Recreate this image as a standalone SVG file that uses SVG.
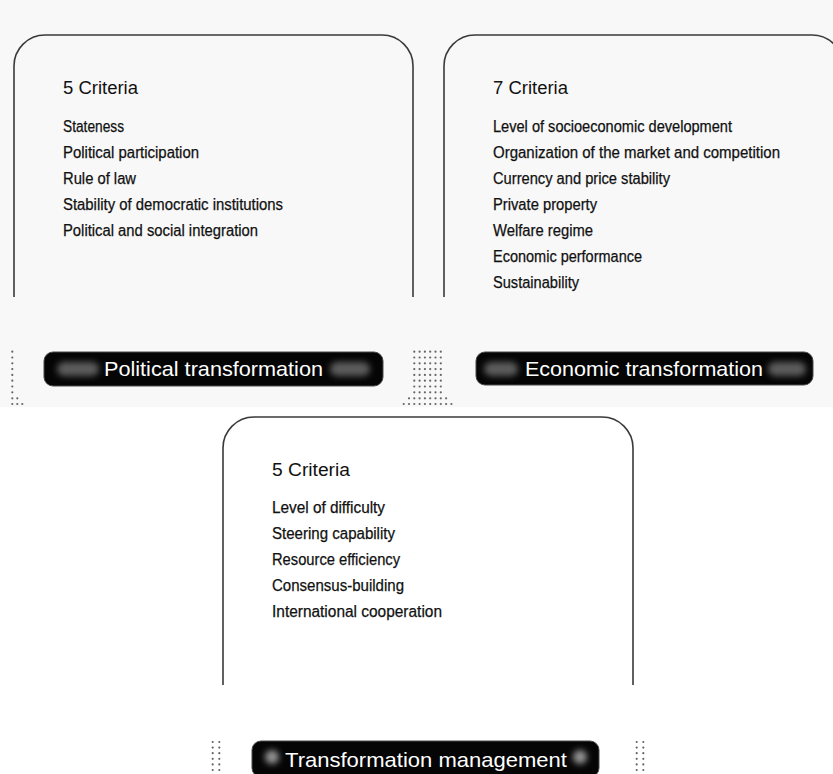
<svg xmlns="http://www.w3.org/2000/svg" xmlns:xlink="http://www.w3.org/1999/xlink" width="833" height="774" viewBox="0 0 833 774">
<style>
.frame{fill:none;stroke:#3a3a3a;stroke-width:1.6}
.hdr{font-family:"Liberation Sans",Arial,sans-serif;font-size:17.5px;fill:#111111}
.item{font-family:"Liberation Sans Narrow","Liberation Sans",Arial,sans-serif;font-size:16px;fill:#111111;stroke:#111111;stroke-width:0.25}
.pill{fill:#050505;stroke:#4a4a4a;stroke-width:1}
.glow{fill:#5c5c5c;filter:url(#blur)}
.spot{fill:#959595;filter:url(#blur)}
.lbl{font-family:"Liberation Sans",Arial,sans-serif;font-size:21px;fill:#ffffff}
.dot{fill:#666666}
</style>
<defs>
<filter id="blur" x="-50%" y="-50%" width="200%" height="200%"><feGaussianBlur stdDeviation="3"/></filter>
<g id="col8">
<circle class="dot" cx="0" cy="0" r="1.1"/><circle class="dot" cx="0" cy="5.8" r="1.1"/><circle class="dot" cx="0" cy="11.6" r="1.1"/><circle class="dot" cx="0" cy="17.4" r="1.1"/><circle class="dot" cx="0" cy="23.2" r="1.1"/><circle class="dot" cx="0" cy="29" r="1.1"/><circle class="dot" cx="0" cy="34.8" r="1.1"/><circle class="dot" cx="0" cy="40.6" r="1.1"/>
</g>
<g id="col6">
<circle class="dot" cx="0" cy="0" r="1.1"/><circle class="dot" cx="0" cy="5.6" r="1.1"/><circle class="dot" cx="0" cy="11.2" r="1.1"/><circle class="dot" cx="0" cy="16.8" r="1.1"/><circle class="dot" cx="0" cy="22.4" r="1.1"/><circle class="dot" cx="0" cy="28" r="1.1"/>
</g>
</defs>
<rect x="0" y="0" width="833" height="407" fill="#f8f8f8"/>
<rect x="0" y="407" width="833" height="367" fill="#ffffff"/>

<g id="connectors"></g>

<g id="decor">
<use xlink:href="#col8" x="12.3" y="351.7"/>
<circle class="dot" cx="12.3" cy="398.3" r="1.1"/><circle class="dot" cx="17.3" cy="398.3" r="1.1"/>
<circle class="dot" cx="12.3" cy="404" r="1.1"/><circle class="dot" cx="17.3" cy="404" r="1.1"/><circle class="dot" cx="22.3" cy="404" r="1.1"/>

<use xlink:href="#col8" x="414.3" y="351.7"/>
<use xlink:href="#col8" x="419.6" y="351.7"/>
<use xlink:href="#col8" x="424.9" y="351.7"/>
<use xlink:href="#col8" x="430.2" y="351.7"/>
<use xlink:href="#col8" x="435.5" y="351.7"/>
<use xlink:href="#col8" x="440.8" y="351.7"/>
<circle class="dot" cx="409" cy="398.3" r="1.1"/><circle class="dot" cx="414.3" cy="398.3" r="1.1"/><circle class="dot" cx="419.6" cy="398.3" r="1.1"/><circle class="dot" cx="424.9" cy="398.3" r="1.1"/><circle class="dot" cx="430.2" cy="398.3" r="1.1"/><circle class="dot" cx="435.5" cy="398.3" r="1.1"/><circle class="dot" cx="440.8" cy="398.3" r="1.1"/><circle class="dot" cx="446.1" cy="398.3" r="1.1"/>
<circle class="dot" cx="403.7" cy="404" r="1.1"/><circle class="dot" cx="409" cy="404" r="1.1"/><circle class="dot" cx="414.3" cy="404" r="1.1"/><circle class="dot" cx="419.6" cy="404" r="1.1"/><circle class="dot" cx="424.9" cy="404" r="1.1"/><circle class="dot" cx="430.2" cy="404" r="1.1"/><circle class="dot" cx="435.5" cy="404" r="1.1"/><circle class="dot" cx="440.8" cy="404" r="1.1"/><circle class="dot" cx="446.1" cy="404" r="1.1"/><circle class="dot" cx="451.4" cy="404" r="1.1"/>

<use xlink:href="#col6" x="212.7" y="742"/>
<use xlink:href="#col6" x="219.3" y="742"/>
<use xlink:href="#col6" x="636.7" y="742"/>
<use xlink:href="#col6" x="643.3" y="742"/>
</g>

<g id="political">
<path class="frame" d="M14,297 V66 A31,31 0 0 1 45,35 H382 A31,31 0 0 1 413,66 V297"/>
<text class="hdr" x="63" y="94" textLength="75" lengthAdjust="spacingAndGlyphs">5 Criteria</text>
<text class="item" x="63" y="132" textLength="61" lengthAdjust="spacingAndGlyphs">Stateness</text>
<text class="item" x="63" y="158" textLength="136" lengthAdjust="spacingAndGlyphs">Political participation</text>
<text class="item" x="63" y="184" textLength="73" lengthAdjust="spacingAndGlyphs">Rule of law</text>
<text class="item" x="63" y="210" textLength="220" lengthAdjust="spacingAndGlyphs">Stability of democratic institutions</text>
<text class="item" x="63" y="236" textLength="195" lengthAdjust="spacingAndGlyphs">Political and social integration</text>
<rect class="pill" x="44" y="352" width="339" height="34" rx="9"/>
<rect class="glow" x="57" y="362" width="42" height="14" rx="7"/>
<rect class="glow" x="330" y="362" width="40" height="14" rx="7"/>
<text class="lbl" x="104" y="376" textLength="219" lengthAdjust="spacingAndGlyphs">Political transformation</text>
</g>

<g id="economic">
<path class="frame" d="M444,297 V66 A31,31 0 0 1 475,35 H812 A31,31 0 0 1 843,66 V297"/>
<text class="hdr" x="493" y="94" textLength="75" lengthAdjust="spacingAndGlyphs">7 Criteria</text>
<text class="item" x="493" y="132" textLength="239" lengthAdjust="spacingAndGlyphs">Level of socioeconomic development</text>
<text class="item" x="493" y="158" textLength="287" lengthAdjust="spacingAndGlyphs">Organization of the market and competition</text>
<text class="item" x="493" y="184" textLength="177" lengthAdjust="spacingAndGlyphs">Currency and price stability</text>
<text class="item" x="493" y="210" textLength="104" lengthAdjust="spacingAndGlyphs">Private property</text>
<text class="item" x="493" y="236" textLength="100" lengthAdjust="spacingAndGlyphs">Welfare regime</text>
<text class="item" x="493" y="262" textLength="149" lengthAdjust="spacingAndGlyphs">Economic performance</text>
<text class="item" x="493" y="288" textLength="86" lengthAdjust="spacingAndGlyphs">Sustainability</text>
<rect class="pill" x="476" y="352" width="337" height="33" rx="9"/>
<rect class="glow" x="484" y="362" width="34" height="14" rx="7"/>
<rect class="glow" x="768" y="362" width="38" height="14" rx="7"/>
<text class="lbl" x="525" y="376" textLength="238" lengthAdjust="spacingAndGlyphs">Economic transformation</text>
</g>

<g id="management">
<path class="frame" d="M223,685 V448 A31,31 0 0 1 254,417 H602 A31,31 0 0 1 633,448 V685"/>
<text class="hdr" x="272" y="476" textLength="78" lengthAdjust="spacingAndGlyphs">5 Criteria</text>
<text class="item" x="272" y="513" textLength="113" lengthAdjust="spacingAndGlyphs">Level of difficulty</text>
<text class="item" x="272" y="539" textLength="123" lengthAdjust="spacingAndGlyphs">Steering capability</text>
<text class="item" x="272" y="565" textLength="128" lengthAdjust="spacingAndGlyphs">Resource efficiency</text>
<text class="item" x="272" y="591" textLength="132" lengthAdjust="spacingAndGlyphs">Consensus-building</text>
<text class="item" x="272" y="617" textLength="170" lengthAdjust="spacingAndGlyphs">International cooperation</text>
<rect class="pill" x="252" y="741" width="347" height="36" rx="9"/>
<circle class="spot" cx="272" cy="757" r="7"/>
<circle class="spot" cx="580" cy="757" r="7"/>
<text class="lbl" x="285" y="767" textLength="282" lengthAdjust="spacingAndGlyphs">Transformation management</text>
</g>
</svg>
